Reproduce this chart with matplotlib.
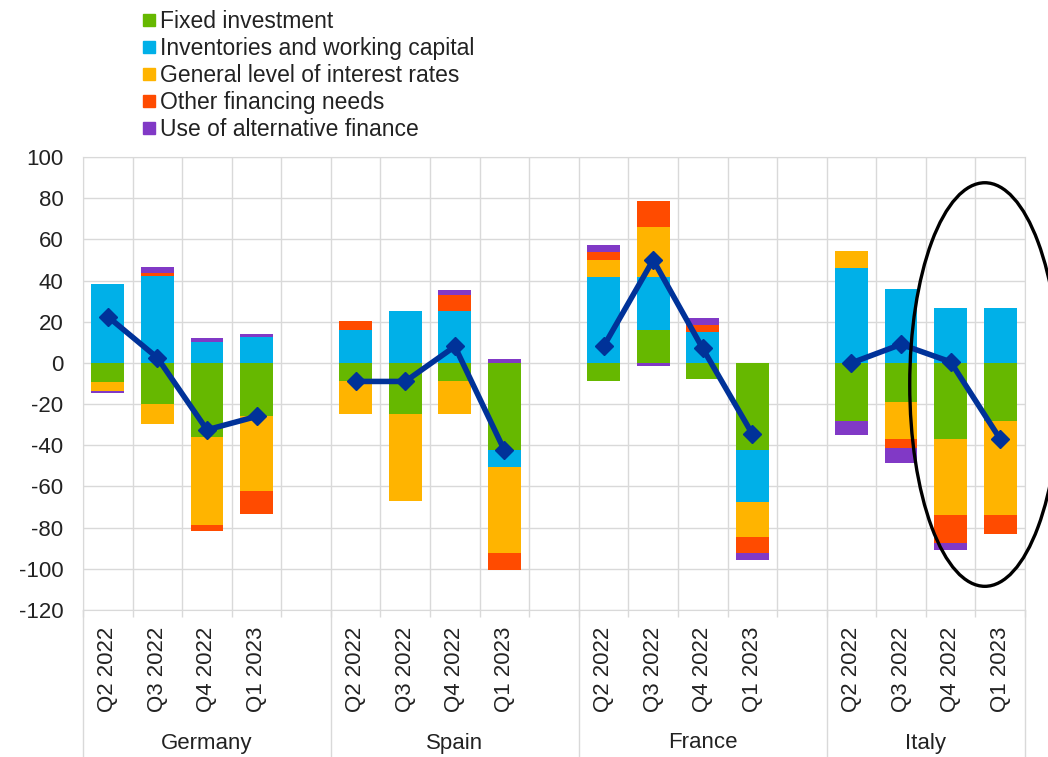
import numpy as np
import matplotlib
matplotlib.use("Agg")
import matplotlib.pyplot as plt
from matplotlib.lines import Line2D
from matplotlib.patches import Ellipse
import matplotlib.transforms as mtransforms

plt.rcParams['font.family'] = ['Liberation Sans', 'DejaVu Sans']
plt.rcParams['axes.unicode_minus'] = False

countries = ["Germany", "Spain", "France", "Italy"]
quarters = ["Q2 2022", "Q3 2022", "Q4 2022", "Q1 2023"]

series_names = ["Fixed investment", "Inventories and working capital",
                "General level of interest rates", "Other financing needs",
                "Use of alternative finance"]
colors = ["#66B800", "#00B0E8", "#FFB400", "#FF4B00", "#8139C6"]

# values per country, per quarter (Q2 2022, Q3 2022, Q4 2022, Q1 2023)
fixed_investment = [[-9.5, -20, -36, -26],
                    [-9, -25, -9, -42.5],
                    [-9, 16, -8, -42.5],
                    [-28, -19, -37, -28]]
inventories = [[38.5, 42, 10, 12.5],
               [16, 25, 25, -8],
               [41.5, 25.5, 15, -25],
               [46, 36, 26.5, 26.5]]
interest_rates = [[-4, -9.5, -42.5, -36],
                  [-16, -42, -16, -42],
                  [8.5, 24.5, 0, -17],
                  [8.5, -18, -37, -46]]
other_financing = [[0, 1.5, -3, -11.5],
                   [4.5, 0, 8, -8],
                   [4, 12.5, 3.5, -8],
                   [0, -4.5, -13.5, -9]]
alternative_finance = [[-1, 3, 2, 1.5],
                       [0, 0, 2.5, 2],
                       [3.5, -1.5, 3.5, -3],
                       [-7, -7, -3.5, 0]]
net_line = [[22.5, 2.5, -32.5, -26],
            [-9, -9, 8, -42.5],
            [8, 50, 7, -34.5],
            [0, 9, 0.5, -37]]

all_series = [fixed_investment, inventories, interest_rates, other_financing, alternative_finance]

W, H = 1048, 757
fig = plt.figure(figsize=(W / 100, H / 100), dpi=100)
ax = fig.add_axes([83 / W, (H - 610) / H, (1025 - 83) / W, 453 / H])

n_q = len(quarters)
slot = n_q + 1
positions = []
for g in range(len(countries)):
    positions += [g * slot + i for i in range(n_q)]
positions = np.array(positions, dtype=float)
n_slots = len(countries) * slot - 1

pos_base = np.zeros(len(positions))
neg_base = np.zeros(len(positions))
for name, col, s in zip(series_names, colors, all_series):
    vals = np.array(s, dtype=float).flatten()
    bottoms = np.where(vals >= 0, pos_base, neg_base)
    ax.bar(positions, vals, bottom=bottoms, width=0.66, color=col, label=name, zorder=3)
    pos_base = pos_base + np.where(vals >= 0, vals, 0)
    neg_base = neg_base + np.where(vals < 0, vals, 0)

for g in range(len(countries)):
    xs = positions[g * n_q:(g + 1) * n_q]
    ax.plot(xs, net_line[g], color="#003299", lw=4, marker="D", markersize=9,
            zorder=5, solid_joinstyle="round")

ax.set_xlim(-0.5, n_slots - 0.5)
ax.set_ylim(-120, 100)
ax.set_yticks(np.arange(-120, 101, 20))
ax.set_xticks(positions)
ax.set_xticklabels(quarters * len(countries), rotation=90, fontsize=16, color="#222222")
ax.set_xticks(np.arange(-0.5, n_slots, 1.0), minor=True)
ax.tick_params(axis="x", which="major", length=0, pad=12)
ax.tick_params(axis="x", which="minor", length=5, color="#d9d9d9", width=1)
ax.tick_params(axis="y", length=0, pad=14, labelsize=16, labelcolor="#222222")
ax.grid(axis="y", which="major", color="#d9d9d9", lw=1, zorder=0)
ax.grid(axis="x", which="minor", color="#d9d9d9", lw=1, zorder=0)
ax.set_axisbelow(True)
for sp in ax.spines.values():
    sp.set_color("#d9d9d9")

trans = mtransforms.blended_transform_factory(ax.transData, ax.transAxes)
sep_bottom = -147 / 453
for g in range(len(countries) + 1):
    xsep = min(g * slot - 0.5, n_slots - 0.5)
    ax.plot([xsep, xsep], [0, sep_bottom], transform=trans, color="#d9d9d9",
            lw=1, clip_on=False)
for g, c in enumerate(countries):
    x0 = g * slot - 0.5
    x1 = min((g + 1) * slot - 0.5, n_slots - 0.5)
    ax.text((x0 + x1) / 2, -133 / 453, c, transform=trans, ha="center", va="center",
            fontsize=16, color="#222222")

ell = Ellipse((17.69, -10.5), width=3.03, height=196, fill=False, edgecolor="black",
              lw=2.4, clip_on=False, zorder=6)
ax.add_patch(ell)

handles = [Line2D([], [], marker="s", linestyle="none", markersize=8,
                  markerfacecolor=c, markeredgecolor=c) for c in colors]
fig.legend(handles, series_names, loc="upper left", bbox_to_anchor=(142 / W, 1 - 10 / H),
           frameon=False, fontsize=16.5, handlelength=0.6, handletextpad=0.2,
           labelspacing=0.18, borderpad=0, borderaxespad=0, labelcolor="#222222")

fig.savefig("out.png", dpi=100)
